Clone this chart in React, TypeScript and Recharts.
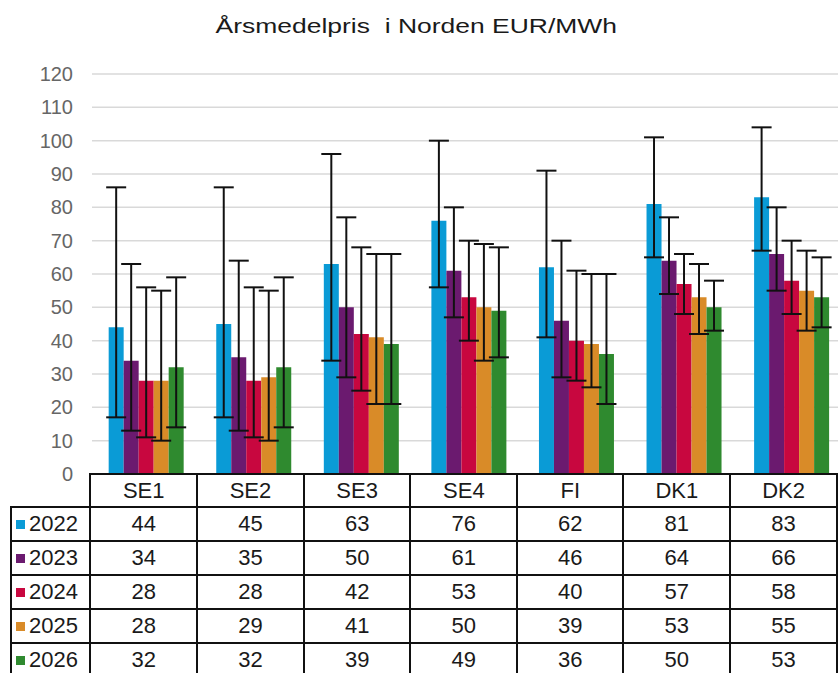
import { Bar, BarChart, CartesianGrid, ErrorBar, YAxis } from 'recharts';

const areas = ['SE1', 'SE2', 'SE3', 'SE4', 'FI', 'DK1', 'DK2'];
const years = ['2022', '2023', '2024', '2025', '2026'];
const yearColors = ['#0a9bd6', '#6b1a6f', '#c8073f', '#d98b28', '#2f8a2f'];

// mean price per area, one array per year
const price2022 = [44, 45, 63, 76, 62, 81, 83];
const price2023 = [34, 35, 50, 61, 46, 64, 66];
const price2024 = [28, 28, 42, 53, 40, 57, 58];
const price2025 = [28, 29, 41, 50, 39, 53, 55];
const price2026 = [32, 32, 39, 49, 36, 50, 53];

// error bar ends (low / high)
const low2022 = [17, 17, 34, 56, 41, 65, 67];
const high2022 = [86, 86, 96, 100, 91, 101, 104];
const low2023 = [13, 13, 29, 47, 29, 54, 55];
const high2023 = [63, 64, 77, 80, 70, 77, 80];
const low2024 = [11, 11, 25, 40, 28, 48, 48];
const high2024 = [56, 56, 68, 70, 61, 66, 70];
const low2025 = [10, 10, 21, 34, 26, 42, 43];
const high2025 = [55, 55, 66, 69, 60, 63, 67];
const low2026 = [14, 14, 21, 35, 21, 43, 44];
const high2026 = [59, 59, 66, 68, 60, 58, 65];

const yTicks = [0, 10, 20, 30, 40, 50, 60, 70, 80, 90, 100, 110, 120];

const prices = [price2022, price2023, price2024, price2025, price2026];
const lows = [low2022, low2023, low2024, low2025, low2026];
const highs = [high2022, high2023, high2024, high2025, high2026];

const data = areas.map((area, i) => {
  const row: Record<string, any> = { area };
  years.forEach((y, k) => {
    row['y' + y] = prices[k][i];
    row['e' + y] = [prices[k][i] - lows[k][i], highs[k][i] - prices[k][i]];
  });
  return row;
});

const font = 'Arial, "Liberation Sans", sans-serif';

const cell = {
  border: '2px solid #111',
  textAlign: 'center' as const,
  padding: 0,
  height: 32,
  width: 106.3,
  fontSize: 22,
  color: '#1a1a1a',
  lineHeight: '26px',
};

export default function App() {
  return (
    <div
      style={{
        position: 'fixed',
        left: 0,
        top: 0,
        width: 838,
        height: 673,
        overflow: 'hidden',
        background: '#fff',
        fontFamily: font,
      }}
    >
      <div
        style={{
          position: 'absolute',
          top: 14,
          left: 0,
          width: 832,
          textAlign: 'center',
          fontSize: 21,
          color: '#1a1a1a',
        }}
      >
        <span style={{ display: 'inline-block', whiteSpace: 'pre', transform: 'scaleX(1.26)' }}>
          {'Årsmedelpris  i Norden EUR/MWh'}
        </span>
      </div>

      <div style={{ position: 'absolute', left: 0, top: 0 }}>
        <BarChart
          width={850}
          height={492}
          data={data}
          margin={{ top: 74, right: 5, bottom: 18, left: 0 }}
          barCategoryGap="15.5%"
          barGap={0}
        >
          <CartesianGrid vertical={false} stroke="#d9d9d9" strokeWidth={1.5} />
          <YAxis
            domain={[0, 120]}
            ticks={yTicks}
            width={92}
            axisLine={false}
            tickLine={false}
            tickSize={6}
            tickMargin={13}
            tick={{ fill: '#666', fontSize: 20, fontFamily: font }}
          />
          {years.map((y, k) => (
            <Bar key={y} dataKey={'y' + y} fill={yearColors[k]} isAnimationActive={false}>
              <ErrorBar dataKey={'e' + y} width={10} stroke="#111" strokeWidth={2} />
            </Bar>
          ))}
        </BarChart>
      </div>

      <table
        style={{
          position: 'absolute',
          left: 10,
          top: 473,
          borderCollapse: 'collapse',
          fontFamily: font,
          tableLayout: 'fixed',
        }}
      >
        <tbody>
          <tr>
            <td style={{ width: 78, height: 31, padding: 0, border: 'none' }} />
            {areas.map((a) => (
              <td key={a} style={{ ...cell, height: 31 }}>
                {a}
              </td>
            ))}
          </tr>
          {years.map((y, k) => (
            <tr key={y}>
              <td style={{ ...cell, width: 74, textAlign: 'left', paddingLeft: 4 }}>
                <span
                  style={{
                    display: 'inline-block',
                    width: 9,
                    height: 9,
                    background: yearColors[k],
                    marginRight: 4,
                    verticalAlign: 'middle',
                    position: 'relative',
                    top: -1,
                  }}
                />
                {y}
              </td>
              {prices[k].map((v, i) => (
                <td key={areas[i]} style={cell}>
                  {v}
                </td>
              ))}
            </tr>
          ))}
        </tbody>
      </table>
    </div>
  );
}
